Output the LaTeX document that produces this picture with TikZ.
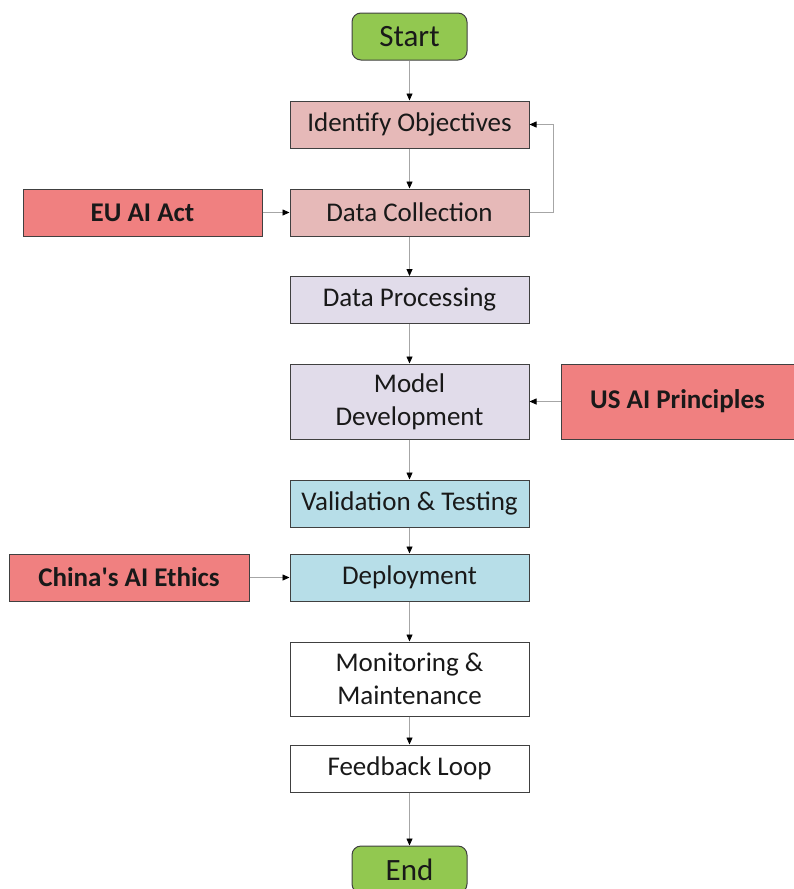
\documentclass[tikz,border=0pt]{standalone}
\usepackage{fontspec}
\setmainfont{Carlito}[Ligatures=TeXOff]
\usetikzlibrary{arrows.meta}
\definecolor{tgreen}{HTML}{92C850}
\definecolor{tpink}{HTML}{E6B9B8}
\definecolor{tred}{HTML}{F08080}
\definecolor{tlav}{HTML}{E1DCEA}
\definecolor{tblue}{HTML}{B7DEE8}
\definecolor{tline}{HTML}{A6A6A6}
\definecolor{tborder}{HTML}{404040}
\tikzset{
  box/.style={draw=tborder, line width=1pt, minimum width=239pt, minimum height=47pt, inner sep=0pt, align=center, font=\fontsize{27}{33}\selectfont, text=black!90},
  term/.style={box, rounded corners=9pt, fill=tgreen, minimum width=115pt, font=\fontsize{31}{33}\selectfont},
  law/.style={box, fill=tred, font=\fontsize{27}{33}\selectfont\bfseries},
  conn/.style={draw=tline, line width=0.8pt, -{Triangle[length=7pt,width=6pt,fill=black,color=black]}}
}
\begin{document}
\begin{tikzpicture}[x=1pt,y=-1pt]
\useasboundingbox (0,0) rectangle (794,889);
\node[term] (start) at (409.5,36.5) {Start};
\node[box, fill=tpink] (obj) at (409.5,124.5) {Identify Objectives};
\node[box, fill=tpink] (coll) at (409.5,212.5) {Data Collection};
\node[law] (eu) at (142.5,212.5) {EU AI Act};
\node[box, fill=tlav] (proc) at (409.5,300) {Data Processing};
\node[box, fill=tlav, minimum height=75pt] (model) at (409.5,401.5) {Model\\Development};
\node[law, minimum width=233pt, minimum height=75pt] (us) at (677.5,401.5) {US AI Principles};
\node[box, fill=tblue] (valid) at (409.5,503.5) {Validation \& Testing};
\node[box, fill=tblue] (deploy) at (409.5,577.5) {Deployment};
\node[law, minimum width=240pt] (china) at (129,577.5) {China's AI Ethics};
\node[box, fill=white, minimum height=74pt] (mon) at (409.5,679) {Monitoring \&\\Maintenance};
\node[box, fill=white] (fb) at (409.5,768.5) {Feedback Loop};
\node[term] (end) at (409.5,869.5) {End};
\coordinate (loopa) at (553,212.5);
\coordinate (loopb) at (553,124.5);
\draw[conn] (start) -- (obj);
\draw[conn] (obj) -- (coll);
\draw[conn] (coll) -- (proc);
\draw[conn] (proc) -- (model);
\draw[conn] (model) -- (valid);
\draw[conn] (valid) -- (deploy);
\draw[conn] (deploy) -- (mon);
\draw[conn] (mon) -- (fb);
\draw[conn] (fb) -- (end);
\draw[conn] (eu) -- (coll);
\draw[conn] (us) -- (model);
\draw[conn] (china) -- (deploy);
\draw[conn] (coll.east) -- (loopa) -- (loopb) -- (obj.east);
\end{tikzpicture}
\end{document}
